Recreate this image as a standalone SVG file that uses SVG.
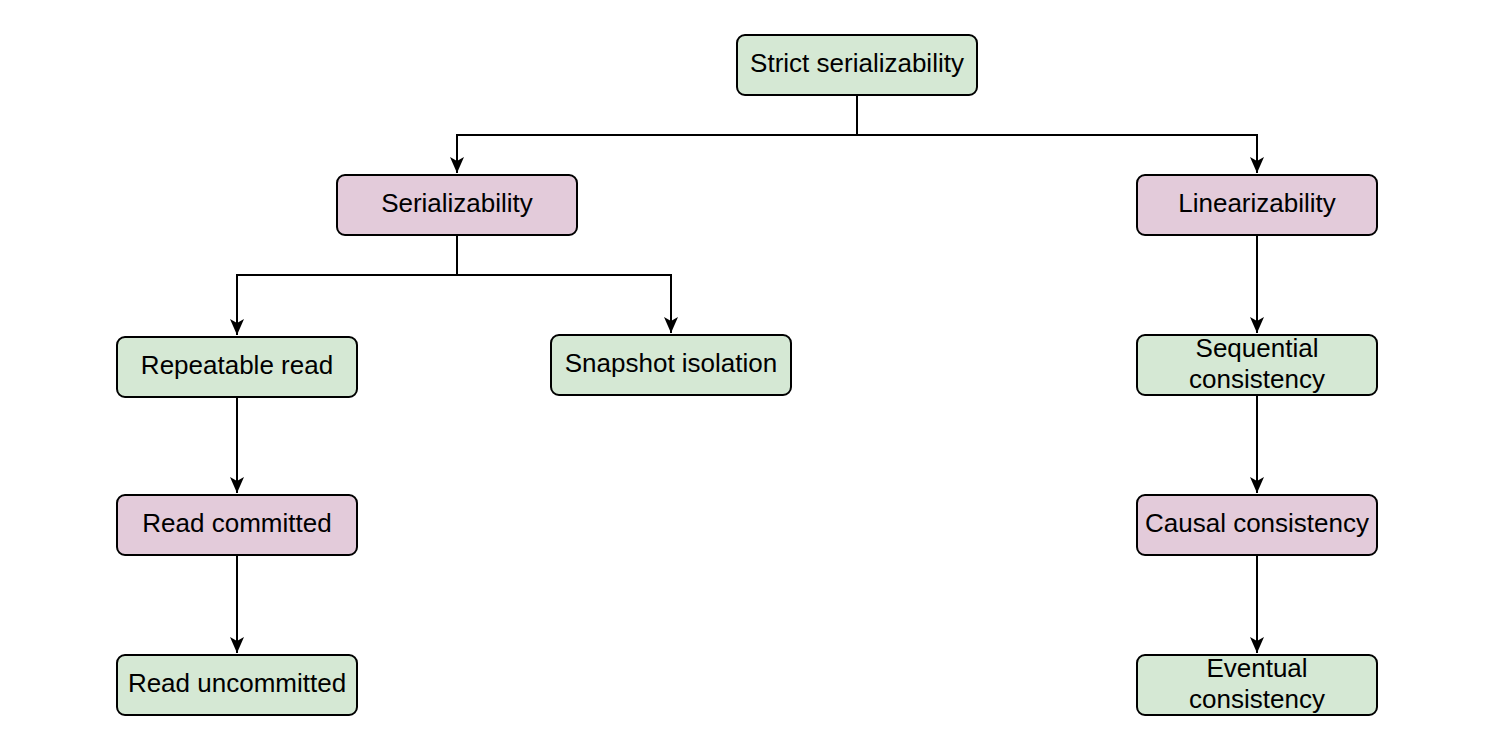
<svg xmlns="http://www.w3.org/2000/svg" width="1506" height="746" viewBox="0 0 1506 746">
<defs>
<style>
.g{fill:#d5e8d4;stroke:#000;stroke-width:2}
.p{fill:#e3cbda;stroke:#000;stroke-width:2}
text{font-family:"Liberation Sans",Arial,Helvetica,sans-serif;font-size:26px;fill:#000;text-anchor:middle;dominant-baseline:central}
.e{fill:none;stroke:#000;stroke-width:2}
</style>
<marker id="a" markerUnits="userSpaceOnUse" markerWidth="18" markerHeight="18" viewBox="0 0 18 18" refX="16" refY="9" orient="auto">
<path d="M0,2 L16,9 L0,16 L4,9 Z" fill="#000"/>
</marker>
</defs>
<rect width="1506" height="746" fill="#fff"/>
<g id="connectors">
<path class="e" d="M857,95 V135 H457 V173" marker-end="url(#a)"/>
<path class="e" d="M857,135 H1257 V173" marker-end="url(#a)"/>
<path class="e" d="M457,235 V275 H237 V335" marker-end="url(#a)"/>
<path class="e" d="M457,275 H671 V333" marker-end="url(#a)"/>
<path class="e" d="M1257,235 V333" marker-end="url(#a)"/>
<path class="e" d="M237,397 V493" marker-end="url(#a)"/>
<path class="e" d="M237,555 V653" marker-end="url(#a)"/>
<path class="e" d="M1257,395 V493" marker-end="url(#a)"/>
<path class="e" d="M1257,555 V653" marker-end="url(#a)"/>
</g>
<g id="strict"><rect class="g" x="737" y="35" width="240" height="60" rx="8"/><text x="857" y="63">Strict serializability</text></g>
<g id="serializability"><rect class="p" x="337" y="175" width="240" height="60" rx="8"/><text x="457" y="203">Serializability</text></g>
<g id="linearizability"><rect class="p" x="1137" y="175" width="240" height="60" rx="8"/><text x="1257" y="203">Linearizability</text></g>
<g id="repeatable"><rect class="g" x="117" y="337" width="240" height="60" rx="8"/><text x="237" y="365">Repeatable read</text></g>
<g id="snapshot"><rect class="g" x="551" y="335" width="240" height="60" rx="8"/><text x="671" y="363">Snapshot isolation</text></g>
<g id="sequential"><rect class="g" x="1137" y="335" width="240" height="60" rx="8"/><text x="1257" y="348">Sequential</text><text x="1257" y="379">consistency</text></g>
<g id="readcommitted"><rect class="p" x="117" y="495" width="240" height="60" rx="8"/><text x="237" y="523">Read committed</text></g>
<g id="causal"><rect class="p" x="1137" y="495" width="240" height="60" rx="8"/><text x="1257" y="523">Causal consistency</text></g>
<g id="readuncommitted"><rect class="g" x="117" y="655" width="240" height="60" rx="8"/><text x="237" y="683">Read uncommitted</text></g>
<g id="eventual"><rect class="g" x="1137" y="655" width="240" height="60" rx="8"/><text x="1257" y="668">Eventual</text><text x="1257" y="699">consistency</text></g>
</svg>
